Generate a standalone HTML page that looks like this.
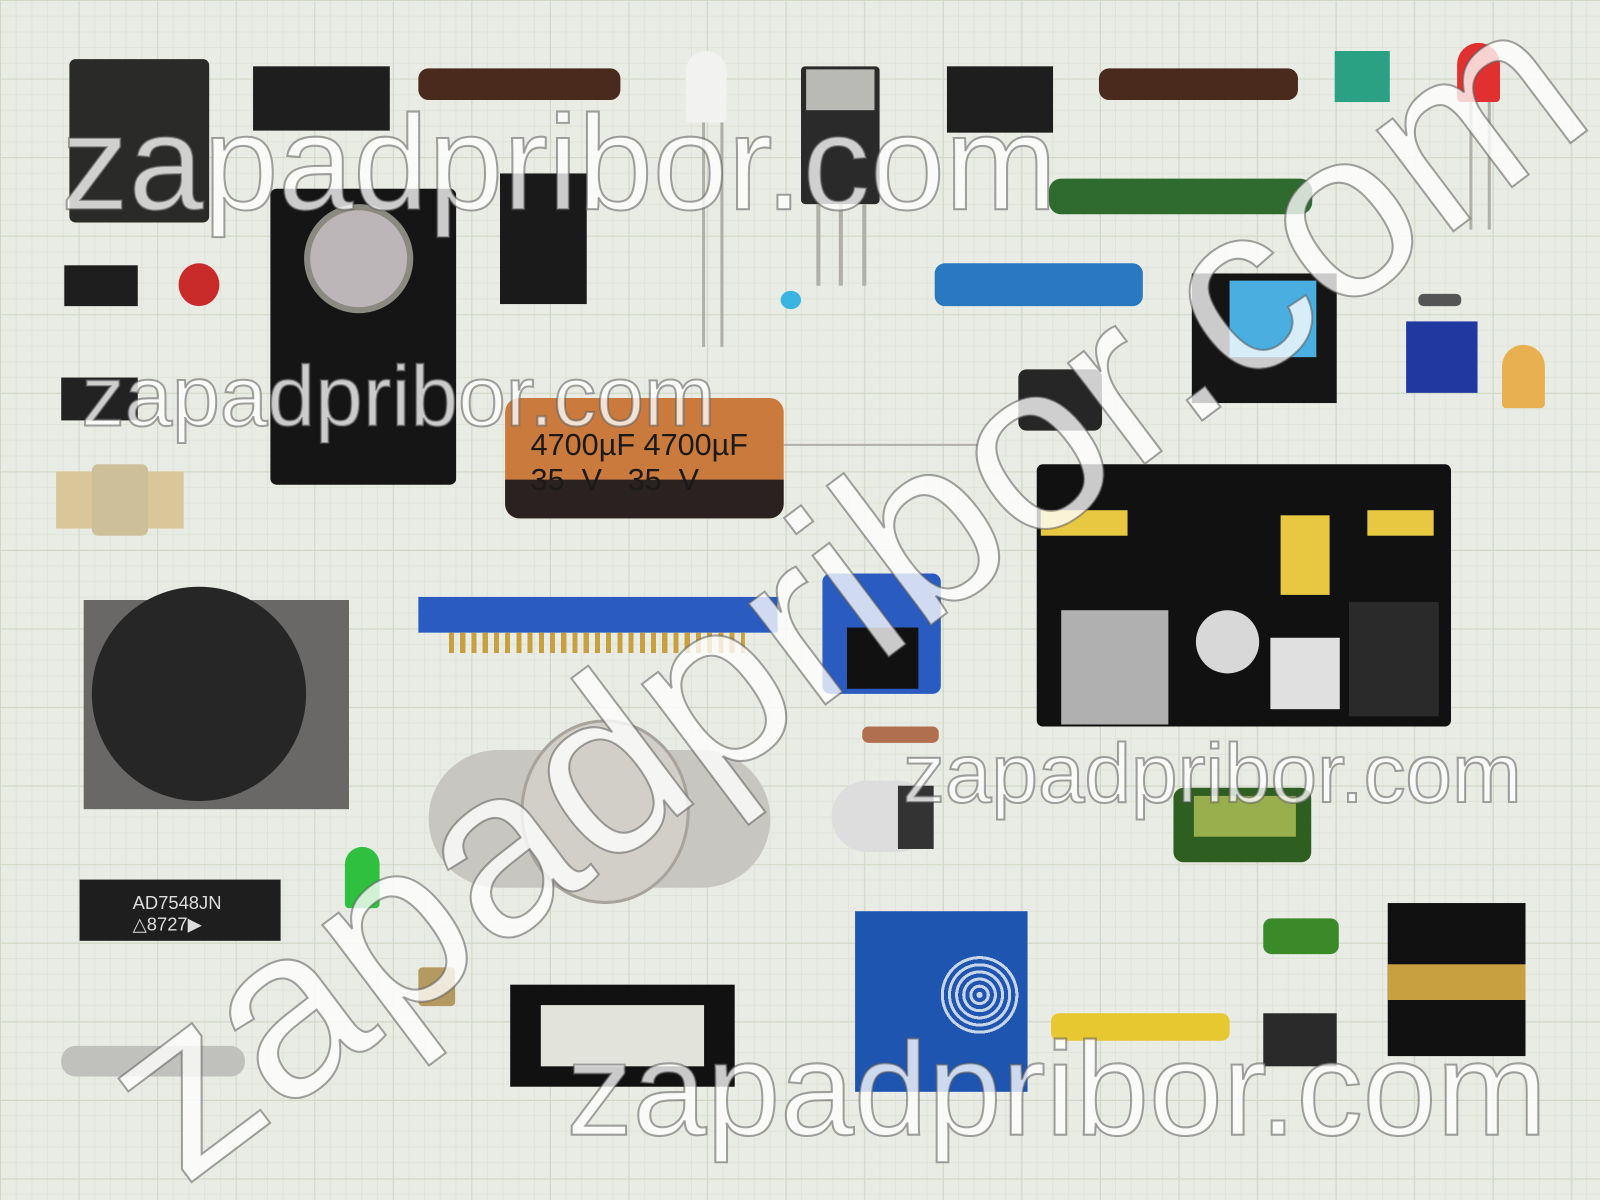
<!DOCTYPE html>
<html><head><meta charset="utf-8"><style>
html,body{margin:0;padding:0;width:1600px;height:1200px;overflow:hidden;background:#e9ebe5}
#o{position:absolute;left:0;top:0;width:1600px;height:1200px;overflow:hidden}
#w{position:absolute;left:0;top:0;width:1568px;height:1176px;overflow:hidden;transform:scale(1.0204);transform-origin:0 0;
background-color:#e9ebe5;
background-image:linear-gradient(#cfd8c4 1px,transparent 1px),linear-gradient(90deg,#cfd8c4 1px,transparent 1px),linear-gradient(#dfe4d8 1px,transparent 1px),linear-gradient(90deg,#dfe4d8 1px,transparent 1px);
background-size:77px 77px,77px 77px,15.4px 15.4px,15.4px 15.4px;font-family:"Liberation Sans",sans-serif}
.b{position:absolute}
.wm{position:absolute;color:rgba(255,255,255,.78);font-weight:400;-webkit-text-stroke:2px rgba(90,90,90,.55);white-space:nowrap;font-family:"Liberation Sans",sans-serif}
.pin{position:absolute;background:#b0b0a8}
</style></head><body><div id="o"><div id="w">
<div class="b" style="left:68px;top:58px;width:137px;height:160px;background:#2a2a28;border-radius:6px"></div>
<div class="b" style="left:248px;top:65px;width:134px;height:63px;background:#1e1e1e"></div>
<div class="b" style="left:410px;top:67px;width:198px;height:31px;background:#4a2a1c;border-radius:10px"></div>
<div class="b" style="left:672px;top:50px;width:40px;height:70px;background:#f2f2f0;border-radius:20px 20px 4px 4px"></div>
<div class="pin" style="left:688px;top:120px;width:3px;height:220px"></div>
<div class="pin" style="left:706px;top:120px;width:3px;height:220px"></div>
<div class="b" style="left:785px;top:65px;width:77px;height:135px;background:#2a2a2a;border-radius:4px"></div>
<div class="b" style="left:790px;top:68px;width:67px;height:40px;background:#b9b9b5"></div>
<div class="pin" style="left:800px;top:200px;width:4px;height:80px"></div><div class="pin" style="left:822px;top:200px;width:4px;height:80px"></div><div class="pin" style="left:845px;top:200px;width:4px;height:80px"></div>
<div class="b" style="left:928px;top:65px;width:104px;height:65px;background:#1e1e1e"></div>
<div class="b" style="left:1077px;top:67px;width:195px;height:31px;background:#4a2a1c;border-radius:10px"></div>
<div class="b" style="left:1308px;top:50px;width:54px;height:50px;background:#2aa183"></div>
<div class="b" style="left:1428px;top:42px;width:42px;height:58px;background:#e03030;border-radius:21px 21px 4px 4px"></div>
<div class="pin" style="left:1440px;top:100px;width:3px;height:125px"></div><div class="pin" style="left:1458px;top:100px;width:3px;height:125px"></div>
<div class="b" style="left:265px;top:185px;width:182px;height:290px;background:#151515;border-radius:6px"></div>
<div class="b" style="left:298px;top:200px;width:95px;height:95px;background:#bdb6b8;border-radius:50%;border:6px solid #8a8a80"></div>
<div class="b" style="left:490px;top:170px;width:85px;height:128px;background:#1a1a1a"></div>
<div class="b" style="left:1028px;top:175px;width:258px;height:35px;background:#2f6b2f;border-radius:12px"></div>
<div class="b" style="left:63px;top:260px;width:72px;height:40px;background:#1e1e1e"></div>
<div class="b" style="left:175px;top:258px;width:40px;height:42px;background:#c92b2b;border-radius:50%"></div>
<div class="b" style="left:60px;top:370px;width:75px;height:42px;background:#222"></div>
<div class="b" style="left:55px;top:462px;width:125px;height:56px;background:#d9c79a"></div>
<div class="b" style="left:90px;top:455px;width:55px;height:70px;background:#cdbf9a;border-radius:6px"></div>
<div class="b" style="left:765px;top:285px;width:20px;height:18px;background:#3ab4e0;border-radius:50%"></div>
<div class="b" style="left:916px;top:258px;width:204px;height:42px;background:#2a78c0;border-radius:10px"></div>
<div class="b" style="left:1168px;top:268px;width:142px;height:127px;background:#151515"></div>
<div class="b" style="left:1205px;top:275px;width:85px;height:75px;background:#4aaee0"></div>
<div class="b" style="left:1378px;top:315px;width:70px;height:70px;background:#2038a0"></div>
<div class="b" style="left:1390px;top:288px;width:42px;height:12px;background:#555;border-radius:5px"></div>
<div class="b" style="left:1472px;top:338px;width:42px;height:62px;background:#e8b050;border-radius:21px 21px 4px 4px"></div>
<div class="b" style="left:998px;top:362px;width:82px;height:60px;background:#262626;border-radius:8px"></div>
<div class="b" style="left:495px;top:390px;width:273px;height:118px;background:#c97a3c;border-radius:14px"></div>
<div class="b" style="left:495px;top:470px;width:273px;height:38px;background:#2a2220;border-radius:0 0 14px 14px"></div>
<div class="b" style="left:520px;top:420px;font-size:30px;color:#1a1a1a">4700µF 4700µF<br>35&nbsp;&nbsp;V&nbsp;&nbsp;&nbsp;35&nbsp;&nbsp;V</div>
<div class="pin" style="left:768px;top:435px;width:190px;height:2px"></div>
<div class="b" style="left:1016px;top:455px;width:406px;height:257px;background:#111;border-radius:6px"></div>
<div class="b" style="left:1040px;top:598px;width:105px;height:112px;background:#b0b0b0"></div>
<div class="b" style="left:1172px;top:598px;width:62px;height:62px;background:#d8d8d8;border-radius:50%"></div>
<div class="b" style="left:1245px;top:625px;width:68px;height:70px;background:#e0e0e0"></div>
<div class="b" style="left:1322px;top:590px;width:88px;height:112px;background:#2a2a2a"></div>
<div class="b" style="left:1255px;top:505px;width:48px;height:78px;background:#e8c840"></div>
<div class="b" style="left:1020px;top:500px;width:85px;height:25px;background:#e8c840"></div>
<div class="b" style="left:1340px;top:500px;width:65px;height:25px;background:#e8c840"></div>
<div class="b" style="left:82px;top:588px;width:260px;height:205px;background:#6a6866"></div>
<div class="b" style="left:90px;top:575px;width:210px;height:210px;background:#262626;border-radius:50%"></div>
<div class="b" style="left:410px;top:585px;width:352px;height:35px;background:#2a5bc0"></div>
<div class="b" style="left:440px;top:620px;width:290px;height:20px;background:repeating-linear-gradient(90deg,#c9a040 0 5px,transparent 5px 11px)"></div>
<div class="b" style="left:806px;top:562px;width:116px;height:118px;background:#2a5bc0;border-radius:8px"></div>
<div class="b" style="left:830px;top:615px;width:70px;height:60px;background:#111"></div>
<div class="b" style="left:845px;top:712px;width:75px;height:16px;background:#b07050;border-radius:6px"></div>
<div class="b" style="left:420px;top:735px;width:335px;height:135px;background:#c8c6c0;border-radius:70px"></div>
<div class="b" style="left:510px;top:705px;width:160px;height:175px;background:#d2cfc8;border-radius:50%;border:3px solid #a8a49c"></div>
<div class="b" style="left:815px;top:765px;width:100px;height:70px;background:#ddd;border-radius:35px"></div>
<div class="b" style="left:880px;top:770px;width:35px;height:62px;background:#333"></div>
<div class="b" style="left:1150px;top:772px;width:135px;height:73px;background:#2e5e20;border-radius:10px"></div>
<div class="b" style="left:1170px;top:780px;width:100px;height:40px;background:#c8d060;opacity:.7"></div>
<div class="b" style="left:78px;top:862px;width:197px;height:60px;background:#1e1e1e"></div>
<div class="b" style="left:130px;top:875px;font-size:18px;color:#ddd">AD7548JN<br>△8727▶</div>
<div class="b" style="left:338px;top:830px;width:34px;height:60px;background:#30c040;border-radius:17px 17px 4px 4px"></div>
<div class="b" style="left:410px;top:948px;width:36px;height:38px;background:#b49a60;border-radius:4px"></div>
<div class="b" style="left:838px;top:893px;width:169px;height:177px;background:#1e55b0"></div>
<div class="b" style="left:920px;top:935px;width:80px;height:80px;border-radius:50%;background:repeating-radial-gradient(#c8d4e8 0 3px,#1e55b0 3px 7px)"></div>
<div class="b" style="left:500px;top:965px;width:220px;height:100px;background:#111"></div>
<div class="b" style="left:530px;top:985px;width:160px;height:60px;background:#e2e4dc"></div>
<div class="b" style="left:1030px;top:993px;width:175px;height:27px;background:#e8c830;border-radius:8px"></div>
<div class="b" style="left:1238px;top:993px;width:72px;height:52px;background:#2a2a2a"></div>
<div class="b" style="left:1238px;top:900px;width:74px;height:35px;background:#3a8a2a;border-radius:8px"></div>
<div class="b" style="left:1360px;top:885px;width:135px;height:150px;background:#111"></div>
<div class="b" style="left:1360px;top:945px;width:135px;height:35px;background:#c8a040"></div>
<div class="b" style="left:60px;top:1025px;width:180px;height:30px;background:#c0c0bc;border-radius:14px"></div>
<div class="wm" style="left:60px;top:84px;font-size:132px">zapadpribor.com</div>
<div class="wm" style="left:80px;top:340px;font-size:84px">zapadpribor.com</div>
<div class="wm" style="left:885px;top:712px;font-size:82px">zapadpribor.com</div>
<div class="wm" style="left:555px;top:992px;font-size:130px">zapadpribor.com</div>
<div class="wm" style="left:-40px;top:452px;font-size:235px;transform:rotate(-37deg);transform-origin:50% 50%;width:1700px;text-align:center">zapadpribor.com</div>
</div></div></body></html>
